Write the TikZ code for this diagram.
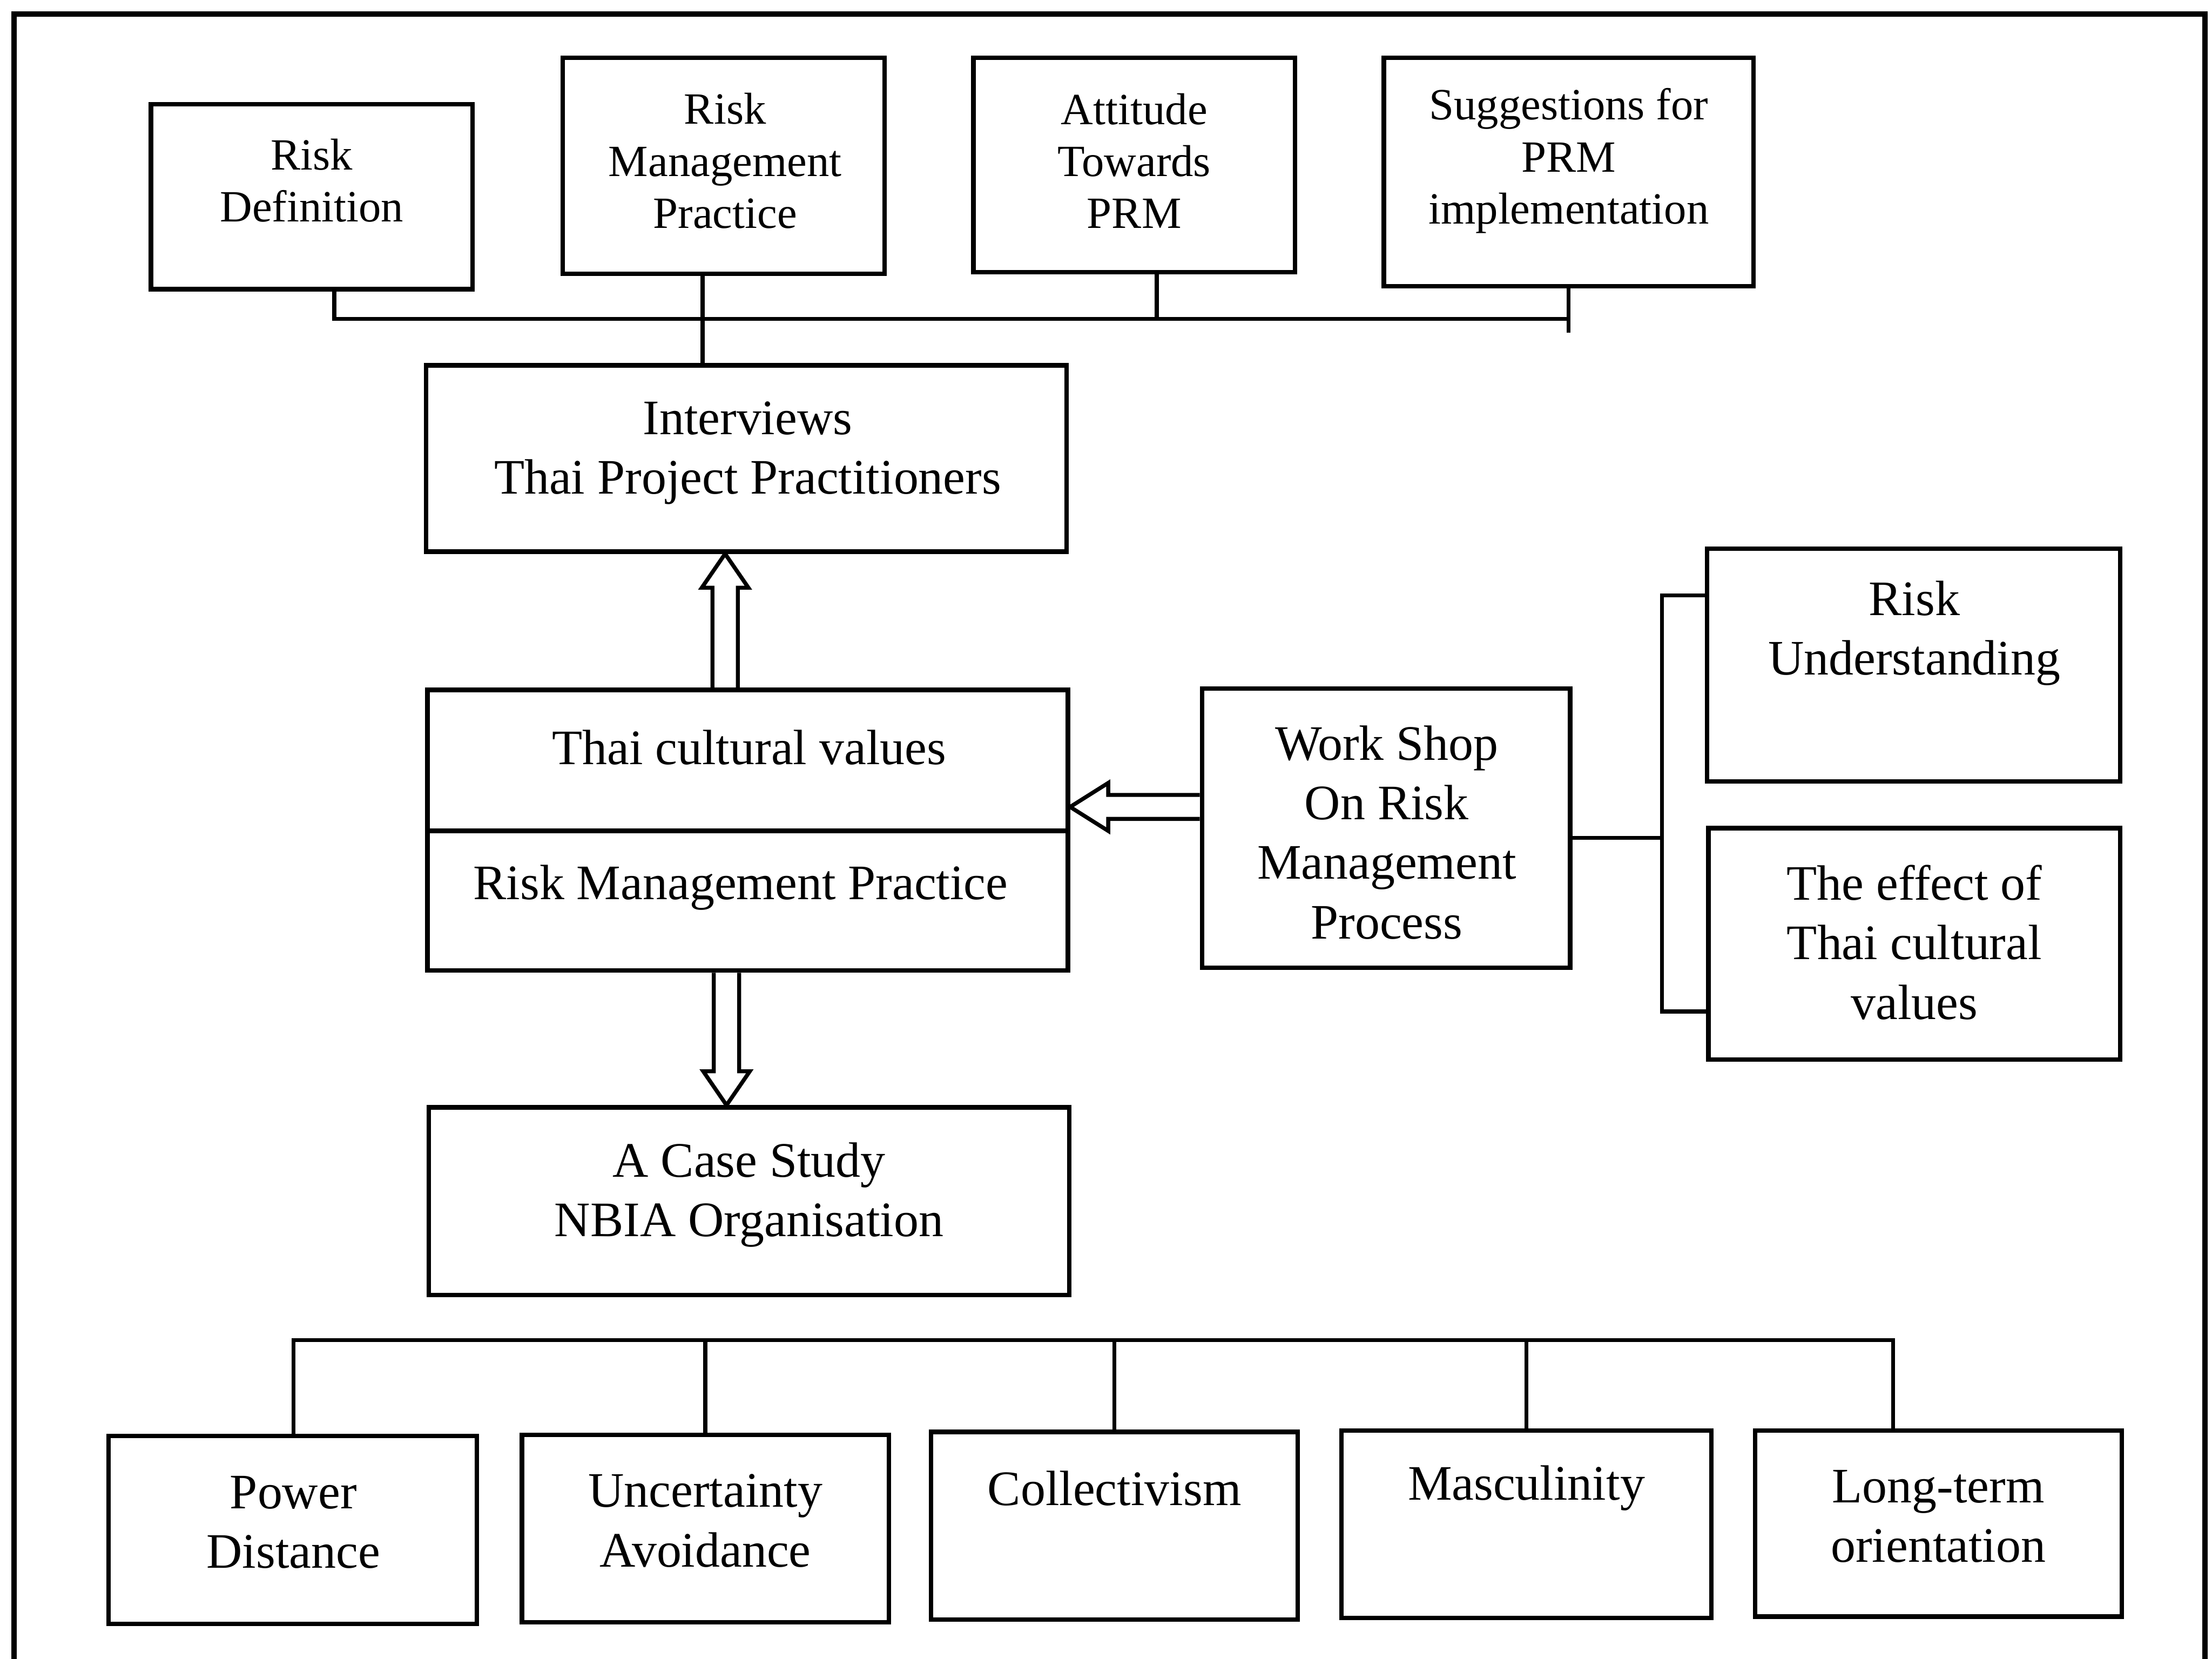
\documentclass[tikz,border=0pt]{standalone}
\usepackage{fontspec}
\setmainfont{Liberation Serif}
\usetikzlibrary{calc,fit}
\begin{document}
\begin{tikzpicture}[x=0.01cm,y=-0.01cm,
  box/.style={draw, line width=0.9pt, rectangle, inner sep=0pt},
  txt/.style={align=center, inner sep=0pt, font=\fontsize{10}{12}\selectfont, yshift=-0.03cm},
  txtsm/.style={align=center, inner sep=0pt, font=\fontsize{9}{10.5}\selectfont, yshift=-0.02cm},
  conn/.style={line width=0.8pt},
  blk/.style={line width=0.8pt, line join=miter},
  frame/.style={line width=1.1pt}]
\useasboundingbox (0,0) rectangle (1568,1176);

% outer frame (open at the foot of the page)
\draw[frame] (10,1200) -- (10,10) -- (1563,10) -- (1563,1200);

% top row of interview themes
\node[box, fit={(107,74) (335,205)}] (rdef) {};
\node[box, fit={(399,41) (627,194)}] (rmp) {};
\node[box, fit={(690,41) (918,193)}] (att) {};
\node[box, fit={(981,41) (1243,203)}] (sug) {};
\node[txtsm] (rdefT) at (221,126) {Risk\\Definition};
\node[txtsm] (rmpT) at (514,112) {Risk\\Management\\Practice};
\node[txtsm] (attT) at (804,112) {Attitude\\Towards\\PRM};
\node[txtsm] (sugT) at (1112,112) {Suggestions for\\PRM\\implementation};

% interviews
\node[box, fit={(302,259) (756,391)}] (int) {};
\node[txt] (intT) at (530,318) {Interviews\\Thai Project Practitioners};

% cultural values / practice
\node[box, fit={(303,489) (757,688)}] (cv) {};
\coordinate (cvdiv) at (0,589);
\draw[box] (cv.west |- cvdiv) -- (cv.east |- cvdiv);
\node[txt] (cvT) at (531,527) {Thai cultural values};
\node[txt] (cvB) at (525,626) {Risk Management Practice};

% workshop
\node[box, fit={(852,488) (1113,686)}] (ws) {};
\node[txt] (wsT) at (983,587) {Work Shop\\On Risk\\Management\\Process};

% workshop outcomes
\node[box, fit={(1210,389) (1503,554)}] (ru) {};
\node[txt] (ruT) at (1357,446) {Risk\\Understanding};
\node[box, fit={(1211,587) (1503,751)}] (eff) {};
\node[txt] (effT) at (1357,665) {The effect of\\Thai cultural\\values};

% case study
\node[box, fit={(304,785) (758,918)}] (cs) {};
\node[txt] (csT) at (531,844) {A Case Study\\NBIA Organisation};

% cultural dimensions
\node[box, fit={(77,1018) (338,1151)}] (pd) {};
\node[box, fit={(370,1017) (630,1150)}] (ua) {};
\node[box, fit={(660,1015) (920,1148)}] (col) {};
\node[box, fit={(951,1014) (1213,1147)}] (mas) {};
\node[box, fit={(1244,1014) (1504,1146)}] (lto) {};
\node[txt] (pdT) at (208,1076) {Power\\Distance};
\node[txt] (uaT) at (500,1075) {Uncertainty\\Avoidance};
\node[txt] (colT) at (790,1052) {Collectivism};
\node[txt] (masT) at (1082,1052) {Masculinity};
\node[txt] (ltoT) at (1374,1072) {Long-term\\orientation};

% top bus linking the themes to the interviews
\coordinate (tbL) at (237,226);
\coordinate (tbR) at (1112,226);
\coordinate (s2) at (498,226);
\coordinate (s3) at (820,226);
\draw[conn] (rdef.south -| tbL) -- (tbL) -- (tbR);
\draw[conn] (rmp.south -| s2) -- (int.north -| s2);
\draw[conn] (att.south -| s3) -- (s3);
\draw[conn] (sug.south) -- ($(sug.south |- tbR)+(0,10)$);

% workshop bracket
\coordinate (rbM) at (1178,594);
\coordinate (rbT) at (1178,422);
\coordinate (rbB) at (1178,717);
\draw[conn] (ws.east |- rbM) -- (rbM);
\draw[conn] (ru.west |- rbT) -- (rbT) -- (rbB) -- (eff.west |- rbB);

% bottom bus to the dimensions
\coordinate (bbL) at (208,950);
\coordinate (bbR) at (1342,950);
\draw[conn] (pd.north -| bbL) -- (bbL) -- (bbR) -- (lto.north -| bbR);
\draw[conn] (ua.north) -- (ua.north |- bbL);
\draw[conn] (col.north) -- (col.north |- bbL);
\draw[conn] (mas.north) -- (mas.north |- bbL);

% block arrow: values -> interviews
\coordinate (upx) at (514,0);
\draw[blk] ($(upx |- cv.north)+(-9,0)$) -- ($(upx |- int.south)+(-9,24)$)
  -- ($(upx |- int.south)+(-16.5,24)$) -- (upx |- int.south)
  -- ($(upx |- int.south)+(16.5,24)$) -- ($(upx |- int.south)+(9,24)$)
  -- ($(upx |- cv.north)+(9,0)$);

% block arrow: practice -> case study
\coordinate (dnx) at (515,0);
\draw[blk] ($(dnx |- cv.south)+(-9,0)$) -- ($(dnx |- cs.north)+(-9,-24)$)
  -- ($(dnx |- cs.north)+(-16.5,-24)$) -- (dnx |- cs.north)
  -- ($(dnx |- cs.north)+(16.5,-24)$) -- ($(dnx |- cs.north)+(9,-24)$)
  -- ($(dnx |- cv.south)+(9,0)$);

% block arrow: workshop -> values
\coordinate (lfy) at (0,572);
\draw[blk] ($(ws.west |- lfy)+(0,-8.5)$) -- ($(cv.east |- lfy)+(27,-8.5)$)
  -- ($(cv.east |- lfy)+(27,-17)$) -- (cv.east |- lfy)
  -- ($(cv.east |- lfy)+(27,17)$) -- ($(cv.east |- lfy)+(27,8.5)$)
  -- ($(ws.west |- lfy)+(0,8.5)$);
\end{tikzpicture}
\end{document}
